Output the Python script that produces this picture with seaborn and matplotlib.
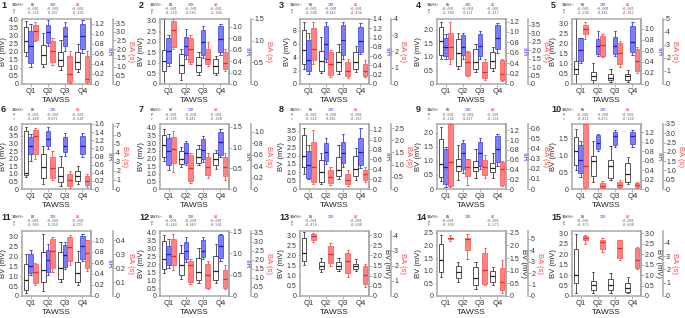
import numpy as np
import pandas as pd
import matplotlib
matplotlib.use("Agg")
import matplotlib.pyplot as plt
from matplotlib.ticker import FixedLocator, FuncFormatter
import seaborn as sns

QUARTILES = ["Q1", "Q2", "Q3", "Q4"]
MEASURES = ["BV", "IIR", "BA"]

# every box: [whisker low, q1, median, q3, whisker high]
BV_01 = [[1.75, 2.0, 2.65, 3.55, 3.9], [1.05, 1.27, 1.8, 2.4, 3.15], [0.85, 1.1, 1.5, 2.0, 2.75], [0.75, 0.95, 1.4, 2.0, 2.5]]
IIR_01 = [[0.34, 0.41, 0.75, 1.06, 1.2], [0.75, 0.82, 1.03, 1.17, 1.27], [0.65, 0.75, 0.96, 1.13, 1.23], [0.62, 0.69, 0.96, 1.2, 1.27]]
BA_01 = [[2.45, 2.55, 3.05, 3.4, 3.55], [1.08, 1.28, 1.87, 2.45, 2.65], [0.04, 0.1, 0.55, 1.6, 1.87], [0.04, 0.1, 0.3, 1.6, 1.87]]

BV_02 = [[0.0, 0.62, 1.08, 1.63, 3.08], [0.2, 0.5, 0.88, 1.42, 1.67], [0.42, 0.58, 0.88, 1.3, 1.53], [0.42, 0.5, 0.83, 1.17, 1.33]]
IIR_02 = [[0.31, 0.37, 0.57, 0.81, 0.86], [0.43, 0.51, 0.67, 0.83, 0.96], [0.46, 0.51, 0.73, 0.94, 1.02], [0.51, 0.56, 0.79, 1.02, 1.06]]
BA_02 = [[0.8, 0.85, 1.24, 1.46, 1.5], [0.45, 0.5, 0.81, 1.07, 1.14], [0.41, 0.45, 0.57, 0.81, 0.98], [0.31, 0.34, 0.49, 0.73, 0.81]]

BV_03 = [[2.25, 3.0, 5.1, 8.1, 9.25], [1.6, 2.0, 3.4, 5.0, 7.1], [1.5, 2.0, 3.25, 4.75, 6.0], [1.75, 2.25, 3.25, 4.75, 5.75]]
IIR_03 = [[0.22, 0.29, 0.52, 0.94, 1.09], [0.47, 0.54, 0.87, 1.25, 1.34], [0.54, 0.62, 0.94, 1.27, 1.34], [0.65, 0.69, 0.93, 1.23, 1.32]]
BA_03 = [[1.25, 1.46, 2.18, 3.46, 3.83], [0.46, 0.58, 1.2, 1.97, 2.07], [0.38, 0.52, 0.79, 1.35, 1.55], [0.42, 0.52, 0.83, 1.25, 1.46]]

BV_04 = [[0.93, 1.07, 1.6, 2.1, 2.28], [0.56, 0.68, 1.14, 1.67, 1.88], [0.43, 0.56, 0.8, 1.3, 1.48], [0.49, 0.58, 0.86, 1.17, 1.36]]
IIR_04 = [[0.48, 0.54, 0.71, 0.89, 0.96], [0.48, 0.56, 0.72, 0.94, 0.99], [0.48, 0.54, 0.73, 0.97, 1.02], [0.6, 0.67, 0.88, 1.13, 1.18]]
BA_04 = [[1.18, 1.47, 2.2, 3.0, 3.63], [0.45, 0.53, 1.27, 1.86, 1.92], [0.24, 0.33, 0.69, 1.27, 1.47], [0.16, 0.24, 0.59, 1.41, 1.47]]

BV_05 = [[0.0, 0.48, 0.72, 1.12, 3.24], [0.03, 0.21, 0.38, 0.6, 1.03], [0.09, 0.21, 0.31, 0.52, 0.72], [0.12, 0.21, 0.38, 0.48, 0.69]]
IIR_05 = [[0.38, 0.41, 0.61, 0.83, 0.84], [0.5, 0.55, 0.69, 0.81, 0.96], [0.5, 0.55, 0.69, 0.86, 0.96], [0.53, 0.58, 0.77, 1.06, 1.12]]
BA_05 = [[3.46, 3.85, 4.23, 4.56, 4.74], [2.05, 2.18, 3.0, 3.72, 3.85], [1.28, 1.54, 2.36, 3.13, 3.33], [0.82, 1.03, 1.79, 2.69, 2.82]]

BV_06 = [[0.77, 0.95, 1.05, 3.85, 4.07], [0.33, 0.7, 1.43, 2.31, 2.86], [0.18, 0.44, 0.84, 1.43, 2.2], [0.33, 0.55, 0.84, 1.21, 1.54]]
IIR_06 = [[0.7, 0.86, 1.07, 1.27, 1.35], [0.98, 1.07, 1.23, 1.43, 1.52], [0.82, 0.9, 1.07, 1.27, 1.39], [0.78, 0.86, 1.07, 1.3, 1.39]]
BA_06 = [[3.28, 3.83, 5.84, 6.5, 6.75], [0.99, 1.17, 2.37, 3.58, 4.2], [0.07, 0.29, 0.99, 1.64, 2.0], [0.18, 0.44, 0.91, 1.39, 1.64]]

BV_07 = [[1.8, 2.1, 2.86, 3.54, 3.92], [1.47, 1.65, 1.97, 2.48, 2.73], [1.6, 1.72, 2.1, 2.6, 2.86], [1.34, 1.6, 1.97, 2.35, 2.56]]
IIR_07 = [[0.45, 0.59, 0.92, 1.24, 1.34], [0.59, 0.64, 0.87, 1.1, 1.17], [0.66, 0.73, 0.94, 1.2, 1.29], [0.78, 0.82, 1.13, 1.38, 1.45]]
BA_07 = [[0.3, 0.46, 0.7, 0.92, 1.02], [0.1, 0.14, 0.36, 0.59, 0.63], [0.19, 0.24, 0.39, 0.56, 0.63], [0.16, 0.22, 0.39, 0.57, 0.63]]

BV_08 = [[0.88, 1.35, 2.0, 3.26, 3.67], [0.3, 0.42, 1.0, 1.74, 2.16], [0.58, 0.77, 1.12, 1.93, 2.63], [0.53, 0.77, 1.23, 1.98, 2.44]]
IIR_08 = [[0.2, 0.22, 0.49, 0.78, 0.89], [0.51, 0.57, 0.75, 0.93, 1.04], [0.45, 0.53, 0.73, 0.95, 1.12], [0.42, 0.48, 0.75, 1.03, 1.24]]
BA_08 = [[0.2, 0.29, 0.92, 1.95, 2.43], [0.17, 0.24, 0.49, 0.76, 0.92], [0.13, 0.21, 0.37, 0.63, 0.76], [0.29, 0.37, 0.6, 0.76, 0.92]]

BV_09 = [[0.3, 0.42, 0.9, 1.8, 2.2], [0.32, 0.66, 0.83, 1.08, 1.56], [0.39, 0.66, 0.8, 1.0, 1.42], [0.39, 0.62, 0.76, 0.94, 1.28]]
IIR_09 = [[0.04, 0.1, 0.44, 0.82, 0.86], [0.33, 0.4, 0.74, 0.95, 1.01], [0.4, 0.48, 0.74, 0.97, 1.05], [0.48, 0.55, 0.82, 1.08, 1.12]]
BA_09 = [[0.02, 0.03, 0.27, 0.64, 0.64], [0.04, 0.13, 0.22, 0.3, 0.3], [0.11, 0.14, 0.22, 0.29, 0.33], [0.03, 0.04, 0.2, 0.27, 0.28]]

BV_10 = [[0.55, 0.72, 1.13, 1.55, 1.78], [0.21, 0.38, 0.82, 0.98, 1.44], [0.26, 0.32, 0.67, 0.86, 1.28], [0.15, 0.22, 0.45, 0.78, 0.95]]
IIR_10 = [[0.25, 0.35, 0.61, 0.93, 1.01], [0.8, 0.84, 0.98, 1.15, 1.17], [0.89, 0.94, 1.13, 1.21, 1.25], [0.89, 0.95, 1.12, 1.22, 1.26]]
BA_10 = [[0.06, 0.1, 1.25, 3.5, 3.5], [0.02, 0.06, 0.17, 0.31, 0.44], [0.06, 0.1, 0.23, 0.38, 0.48], [0.06, 0.1, 0.21, 0.31, 0.38]]

BV_11 = [[0.13, 0.3, 0.83, 1.6, 2.13], [0.25, 0.72, 1.3, 2.25, 3.13], [0.72, 0.88, 1.42, 2.25, 2.72], [0.55, 0.72, 1.17, 1.75, 2.3]]
IIR_11 = [[0.39, 0.42, 0.55, 0.76, 0.84], [0.38, 0.43, 0.65, 0.84, 0.94], [0.49, 0.52, 0.74, 0.92, 0.98], [0.64, 0.67, 0.9, 1.09, 1.12]]
BA_11 = [[0.08, 0.09, 0.17, 0.23, 0.24], [0.17, 0.2, 0.32, 0.41, 0.42], [0.22, 0.25, 0.35, 0.42, 0.44], [0.18, 0.2, 0.31, 0.4, 0.4]]

BV_12 = [[1.42, 1.73, 2.35, 3.5, 3.85], [1.06, 1.31, 1.94, 2.73, 3.19], [0.79, 1.0, 1.52, 2.4, 3.02], [0.79, 1.0, 1.58, 2.52, 3.29]]
IIR_12 = [[0.65, 0.73, 0.98, 1.18, 1.33], [0.79, 0.87, 1.06, 1.27, 1.37], [0.87, 0.91, 1.06, 1.32, 1.37], [0.81, 0.88, 1.18, 1.42, 1.46]]
BA_12 = [[1.42, 1.69, 2.2, 3.14, 3.4], [0.69, 0.78, 1.69, 1.96, 2.05], [0.38, 0.42, 1.15, 1.78, 1.96], [0.38, 0.45, 0.96, 1.42, 1.69]]

BV_13 = [[1.55, 1.72, 2.13, 2.88, 3.13], [1.17, 1.33, 1.5, 1.67, 1.88], [1.22, 1.33, 1.5, 1.67, 1.88], [1.22, 1.33, 1.47, 1.6, 1.83]]
BA_13 = [[3.56, 3.73, 3.96, 4.07, 4.18], [2.0, 2.18, 2.8, 3.29, 3.51], [1.24, 1.51, 2.29, 2.84, 3.07], [0.62, 0.8, 1.4, 2.0, 2.13]]

BV_14 = [[0.75, 0.95, 1.42, 2.04, 2.43], [0.56, 0.71, 0.93, 1.19, 1.35], [0.26, 0.45, 0.71, 1.15, 1.35], [0.42, 0.56, 0.79, 0.98, 1.15]]
BA_14 = [[4.82, 5.0, 5.06, 5.12, 5.35], [3.24, 4.03, 5.0, 5.06, 5.41], [0.94, 1.09, 2.26, 3.74, 4.18], [0.29, 0.5, 1.24, 2.47, 3.15]]

BV_15 = [[0.13, 0.6, 1.0, 2.22, 2.95], [0.16, 0.29, 0.52, 0.73, 1.16], [0.16, 0.29, 0.52, 0.79, 1.08], [0.13, 0.21, 0.4, 0.6, 0.92]]
BA_15 = [[3.95, 4.25, 4.4, 4.5, 4.58], [3.33, 3.58, 4.08, 4.25, 4.4], [2.75, 2.9, 3.65, 4.2, 4.2], [2.0, 2.08, 2.7, 3.65, 3.7]]

BV_BOXES = [BV_01, BV_02, BV_03, BV_04, BV_05, BV_06, BV_07, BV_08, BV_09, BV_10, BV_11, BV_12, BV_13, BV_14, BV_15]
IIR_BOXES = [IIR_01, IIR_02, IIR_03, IIR_04, IIR_05, IIR_06, IIR_07, IIR_08, IIR_09, IIR_10, IIR_11, IIR_12, None, None, None]
BA_BOXES = [BA_01, BA_02, BA_03, BA_04, BA_05, BA_06, BA_07, BA_08, BA_09, BA_10, BA_11, BA_12, BA_13, BA_14, BA_15]

# axis ranges and tick steps for each panel
BV_LIM = [4.05, 3.08, 9.75, 2.4, 3.22, 4.28, 4.25, 3.9, 2.32, 1.93, 3.3, 4.1, 3.2, 2.57, 3.1]
BV_STEP = [0.5, 0.5, 2, 0.5, 0.5, 0.5, 0.5, 0.5, 0.5, 0.5, 0.5, 0.5, 0.5, 0.5, 0.5]
IIR_LIM = [1.3, 1.14, 1.4, 1.25, 1.18, 1.6, 1.57, 1.32, 1.33, 1.38, 1.18, 1.52, None, None, None]
IIR_STEP = [0.2, 0.2, 0.2, 0.2, 0.2, 0.2, 0.5, 0.2, 0.2, 0.2, 0.2, 0.5, None, None, None]
BA_LIM = [3.73, 1.5, 4.0, 3.83, 5.0, 7.2, 1.14, 2.67, 0.64, 3.5, 0.466, 3.59, 4.3, 5.7, 4.9]
BA_STEP = [0.5, 0.5, 1, 0.5, 1, 1, 0.2, 0.5, 0.1, 0.5, 0.1, 0.5, 1, 1, 1]

# correlation table above each panel
P_BV = ["<0.001"] * 15
P_IIR = ["<0.001"] * 12 + ["-", "-", "-"]
P_BA = ["<0.001"] * 15
R_BV = ["-0.336", "-0.218", "-0.380", "-0.390", "-0.296", "-0.448", "-0.335", "-0.316",
        "-0.234", "-0.411", "-0.003", "-0.248", "-0.418", "-0.320", "-0.373"]
R_IIR = ["0.187", "0.236", "0.342", "0.221", "0.281", "0.071", "0.241", "0.281",
         "0.327", "0.475", "0.350", "0.340", "-", "-", "-"]
R_BA = ["-0.492", "-0.306", "-0.494", "-0.417", "-0.352", "-0.687", "-0.308", "-0.347",
        "-0.226", "-0.524", "0.276", "-0.501", "-0.688", "-0.572", "-0.608"]

FACE = {"BV": "white", "IIR": "#5c5cf2", "BA": "#ff6464"}
EDGE = {"BV": "#3a3a3a", "IIR": "#3535e0", "BA": "#ff4a4a"}
MEDIAN = {"BV": "#222222", "IIR": "#1a1ab8", "BA": "#e02a2a"}
BLUE = "#3b3bea"
RED = "#ff4a4a"
SPINE = "#a8a8a8"

FIG_W, FIG_H = 685, 318
COL_LEFT = [22, 160, 300, 437, 572]
ROW_TOP = [19, 124, 231]
AX_W, AX_H = 69, 65


def box_frame(boxes, measure):
    rows = []
    for q, stats in zip(QUARTILES, boxes):
        for v in stats:
            rows.append({"quartile": q, "value": v, "measure": measure})
    return pd.DataFrame(rows)


def draw_boxes(ax, boxes, measure):
    df = box_frame(boxes, measure)
    sns.boxplot(
        data=df, x="quartile", y="value", hue="measure",
        order=QUARTILES, hue_order=MEASURES, palette=FACE,
        dodge=True, width=0.8, gap=0, whis=(0, 100), saturation=1,
        linewidth=0.6, linecolor=EDGE[measure], fliersize=0, legend=False,
        boxprops={"alpha": 0.8 if measure != "BV" else 1},
        medianprops={"color": MEDIAN[measure], "linewidth": 0.9},
        ax=ax,
    )


def fmt_for(step):
    def f(v, _):
        if abs(v) < 1e-9:
            return "0"
        return f"{v:.0f}" if step >= 1 else f"{v:.1f}"
    return FuncFormatter(f)


def set_yaxis(ax, lim, step):
    ax.set_ylim(0, lim)
    ax.yaxis.set_major_locator(FixedLocator(np.arange(0, lim + 1e-6, step)))
    ax.yaxis.set_major_formatter(fmt_for(step))
    ax.set_xlabel("")
    ax.set_ylabel("")


def px(x, y):
    return x / FIG_W, 1 - y / FIG_H


def draw_table(fig, i, left, top):
    mono = {"family": "DejaVu Sans Mono", "fontsize": 2.6, "ha": "center", "va": "center"}
    y0, y1, y2 = top - 14, top - 9.5, top - 5.5
    fig.text(*px(left - 21, y0), str(i + 1), fontsize=6.5, fontweight="bold", ha="left", va="center")
    fig.text(*px(left - 4, y0), "TAWSS~", color="#333", **mono)
    fig.text(*px(left + 11, y0), "BV", color="#333", **mono)
    fig.text(*px(left + 31, y0), "IIR", color=BLUE, **mono)
    fig.text(*px(left + 56, y0), "BA", color=RED, **mono)
    for y, lab, vals in [(y1, "p", (P_BV[i], P_IIR[i], P_BA[i])), (y2, "r", (R_BV[i], R_IIR[i], R_BA[i]))]:
        fig.text(*px(left - 8, y), lab, color="#444", style="italic", **mono)
        for cx, v in zip((left + 11, left + 31, left + 56), vals):
            fig.text(*px(cx, y), v, color="#666", **mono)


def draw_panel(fig, i):
    row, col = divmod(i, 5)
    left, top = COL_LEFT[col], ROW_TOP[row]
    rect = [left / FIG_W, 1 - (top + AX_H) / FIG_H, AX_W / FIG_W, AX_H / FIG_H]
    ax = fig.add_axes(rect)
    ax2 = ax.twinx()
    ax3 = ax.twinx()

    draw_boxes(ax, BV_BOXES[i], "BV")
    if IIR_BOXES[i] is not None:
        draw_boxes(ax2, IIR_BOXES[i], "IIR")
    draw_boxes(ax3, BA_BOXES[i], "BA")

    set_yaxis(ax, BV_LIM[i], BV_STEP[i])
    if IIR_BOXES[i] is not None:
        set_yaxis(ax2, IIR_LIM[i], IIR_STEP[i])
        ax2.set_ylabel("IIR", color=BLUE, rotation=270, va="bottom", fontsize=5.5, labelpad=0.5)
    else:
        set_yaxis(ax2, BV_LIM[i], BV_STEP[i])
        ax2.set_ylabel("BV (mV)", color="#222", rotation=270, va="bottom", fontsize=5.5, labelpad=0.5)
    set_yaxis(ax3, BA_LIM[i], BA_STEP[i])
    ax3.set_ylabel("BA (s)", color=RED, rotation=270, va="bottom", fontsize=5.5, labelpad=0.5)

    ax.set_xlim(-0.5, 3.5)
    ax.set_xticks(range(len(QUARTILES)), QUARTILES)
    ax.set_xlabel("TAWSS", fontsize=6, labelpad=1.5)
    ax.set_ylabel("BV (mV)", fontsize=5.5, labelpad=1)

    for side in ("left", "right", "top", "bottom"):
        ax.spines[side].set_color(SPINE)
        ax.spines[side].set_linewidth(1.1)
    for a in (ax2, ax3):
        for side in ("left", "top", "bottom"):
            a.spines[side].set_visible(False)
        a.spines["right"].set_color(SPINE)
        a.spines["right"].set_linewidth(1.1)
    ax3.spines["right"].set_position(("outward", 15.5))

    tick_kw = dict(labelsize=5, length=1.8, width=0.6, color=SPINE, labelcolor="#333", pad=0.8)
    ax.tick_params(axis="y", left=True, **tick_kw)
    ax.tick_params(axis="x", bottom=True, **{**tick_kw, "labelsize": 5.5})
    ax2.tick_params(axis="y", right=True, **tick_kw)
    ax3.tick_params(axis="y", right=True, **tick_kw)

    draw_table(fig, i, left, top)


sns.set_style("ticks")
plt.rcParams["font.family"] = ["Liberation Sans", "DejaVu Sans"]

fig = plt.figure(figsize=(FIG_W / 100, FIG_H / 100), dpi=100)
fig.patch.set_facecolor("white")
for i in range(15):
    draw_panel(fig, i)

fig.savefig("out.png", dpi=100)
